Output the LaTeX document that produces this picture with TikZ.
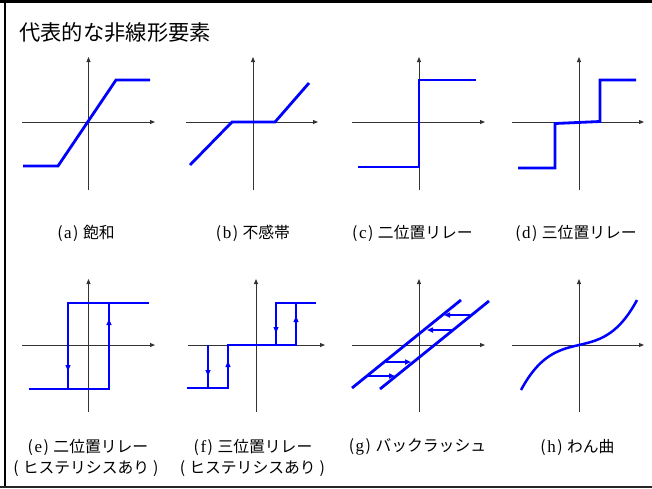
\documentclass[tikz,border=0pt]{standalone}
\usepackage{fontspec}
\setmainfont{Liberation Serif}
\newfontfamily\jp{Noto Sans CJK JP}
\usetikzlibrary{arrows.meta}
\newcommand\plab[2]{{\jp (}\kern1.5pt{\fontsize{17}{18}\selectfont #1}\kern1.5pt{\jp )}\kern4.5pt{\jp #2}}
\newcommand\hyst{{\jp (}\kern4pt{\jp ヒステリシスあり}\kern4pt{\jp )}}
\begin{document}
\begin{tikzpicture}[x=1pt,y=-1pt,
  axis/.style={draw=black!80, line width=0.9pt, -{Triangle[length=5pt,width=4pt]}},
  curve/.style={draw=blue, line width=2.8pt, line join=miter},
  tip/.style={draw=blue, line width=1pt, -{Triangle[length=6pt,width=5pt]}},
  thin/.style={draw=blue, line width=1.6pt, -{Triangle[length=6pt,width=5pt]}},
  lbl/.style={font=\fontsize{15.8}{18}\selectfont, inner sep=0pt}
]
\useasboundingbox (0,0) rectangle (652,488);
% frame
\draw[line width=3pt] (0,1.5) -- (652,1.5);
\draw[line width=2pt] (5,0) -- (5,488);
\draw[line width=1.5pt, black!85] (0,487) -- (652,487);
% title
\node[anchor=west, inner sep=0pt, font=\jp\fontsize{21.3}{24}\selectfont] (title) at (19,32) {代表的な非線形要素};

% (a) saturation
\draw[axis] (88.5,190) -- (88.5,57);
\draw[axis] (22,122) -- (155,122);
\draw[curve] (23,166) -- (58,166) -- (116,80) -- (150,80);
\node[lbl] (la) at (86,233) {\plab{a}{飽和}};

% (b) dead zone
\draw[axis] (253,190) -- (253,57);
\draw[axis] (186,122) -- (318,122);
\draw[curve] (190,165) -- (232,122) -- (275,122) -- (309,83);
\node[lbl] (lb) at (253,233) {\plab{b}{不感帯}};

% (c) two-position relay
\draw[axis] (419,190) -- (419,57);
\draw[axis] (352,122) -- (485,122);
\draw[curve] (358,167) -- (419,167) -- (419,80) -- (476,80);
\node[lbl] (lc) at (412.5,233) {\plab{c}{二位置リレー}};

% (d) three-position relay
\draw[axis] (579,190) -- (579,57);
\draw[axis] (512,122) -- (644,122);
\draw[curve] (518,168) -- (555,168) -- (555,123.5) -- (600,121.5) -- (600,80) -- (636,80);
\node[lbl] (ld) at (576,233) {\plab{d}{三位置リレー}};

% (e) two-position relay with hysteresis
\draw[axis] (88.5,412) -- (88.5,279);
\draw[axis] (22,345) -- (155,345);
\draw[curve] (29,389) -- (109,389) -- (109,303) -- (149,303);
\draw[curve] (68,389) -- (68,303) -- (109,303);
\draw[tip] (68,356) -- (68,371);
\draw[tip] (109,334) -- (109,319);
\node[lbl] (le) at (88,447) {\plab{e}{二位置リレー}};
\node[lbl] (le2) at (86,469) {\hyst};

% (f) three-position relay with hysteresis
\draw[axis] (256,412) -- (256,279);
\draw[axis] (188,345) -- (325,345);
\draw[curve] (187,388) -- (228,388) -- (228,345) -- (296,345) -- (296,303) -- (316,303);
\draw[curve] (208,388) -- (208,345);
\draw[curve] (276,345) -- (276,303) -- (296,303);
\draw[tip] (208,362) -- (208,376);
\draw[tip] (228,375) -- (228,361);
\draw[tip] (276,319) -- (276,333);
\draw[tip] (296,330) -- (296,316);
\node[lbl] (lf) at (253,447) {\plab{f}{三位置リレー}};
\node[lbl] (lf2) at (252.5,469) {\hyst};

% (g) backlash
\draw[axis] (419,412) -- (419,279);
\draw[axis] (352,345) -- (485,345);
\draw[curve] (352,388) -- (461,300);
\draw[curve] (380,389) -- (489,301);
\draw[thin] (470,315) -- (444,315);
\draw[thin] (454,330) -- (427,330);
\draw[thin] (386,362) -- (411,362);
\draw[thin] (368,376) -- (395,376);
\node[lbl] (lg) at (417.5,447) {\plab{g}{バックラッシュ}};

% (h) curvature
\draw[axis] (579,412) -- (579,279);
\draw[axis] (512,345) -- (644,345);
\draw[curve, line width=2.5pt] plot[domain=-1:1, samples=60, smooth] ({579+58*\x},{345-45*(0.3*\x+0.7*\x*\x*\x)});
\node[lbl] (lh) at (577.5,447) {\plab{h}{わん曲}};
\end{tikzpicture}
\end{document}
